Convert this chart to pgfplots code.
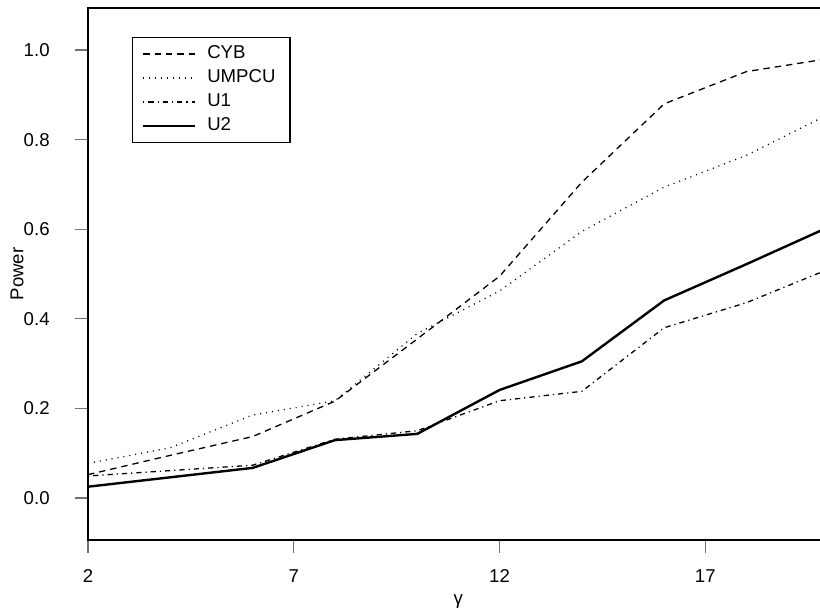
\documentclass[border=0pt]{standalone}
\usepackage{fontspec}
\setmainfont{Liberation Sans}
\usepackage{pgfplots}
\pgfplotsset{compat=1.18}

\pgfplotstableread{
x    cyb    umpcu  uone   utwo
2    0.052  0.077  0.049  0.025
4    0.095  0.112  0.061  0.046
6    0.137  0.185  0.073  0.067
8    0.216  0.217  0.131  0.129
10   0.355  0.367  0.150  0.143
12   0.495  0.462  0.217  0.241
14   0.705  0.595  0.238  0.305
16   0.880  0.694  0.380  0.441
18   0.952  0.765  0.436  0.522
20   0.981  0.857  0.511  0.605
}\powertab

\newcommand{\rfont}{\fontsize{9.3}{11}\selectfont}
\newcommand{\legtxt}[1]{\hspace*{5.5pt}#1}

\begin{document}
\begin{tikzpicture}
\begin{axis}[
  name=ax,
  scale only axis,
  width=370.4pt, height=266pt,
  xmin=2, xmax=20,
  ymin=-0.094, ymax=1.094,
  xtick={2,7,12,17},
  ytick={0,0.2,0.4,0.6,0.8,1.0},
  xtick pos=left, ytick pos=left,
  tick align=outside,
  major tick length=6.5pt,
  tick style={draw=black!55, line width=0.7pt},
  axis line style={line width=1.1pt},
  /pgf/number format/assume math mode=true,
  tick label style={font=\rfont},
  yticklabel style={/pgf/number format/fixed, /pgf/number format/fixed zerofill, /pgf/number format/precision=1},
  yticklabel style={inner sep=0pt, xshift=-12.5pt},
  xticklabel style={inner sep=0pt, yshift=-8pt},
  xlabel={γ},
  ylabel={Power},
  every axis x label/.style={at={(rel axis cs:0.5,-0.1165)}, anchor=center, font=\rfont},
  every axis y label/.style={at={(rel axis cs:-0.0958,0.5)}, rotate=90, anchor=center, font=\rfont},
  legend image code/.code={\draw[#1] (0pt,0pt) -- (26pt,0pt);},
  legend cell align=left,
  legend style={
    at={(0.059,0.946)}, anchor=north west,
    draw=black, line width=0.8pt,
    inner xsep=4.7pt, inner ysep=3.75pt,
    row sep=3pt,
    font=\rfont,
    nodes={inner sep=0pt, text height=6.7pt, text depth=2.3pt, text width=42pt, line width=0.8pt},
  },
]
\addplot[black, line width=0.65pt, dash pattern=on 3.2pt off 2.5pt] table[x=x, y=cyb] {\powertab};
\addlegendentry{\legtxt{CYB}}
\addplot[black, line width=0.65pt, dash pattern=on 0.5pt off 2.5pt] table[x=x, y=umpcu] {\powertab};
\addlegendentry{\legtxt{UMPCU}}
\addplot[black, line width=0.65pt, dash pattern=on 0.6pt off 2pt on 2.6pt off 2pt] table[x=x, y=uone] {\powertab};
\addlegendentry{\legtxt{U1}}
\addplot[black, line width=1.2pt] table[x=x, y=utwo] {\powertab};
\addlegendentry{\legtxt{U2}}
\end{axis}
\pgfresetboundingbox
\path[use as bounding box] ([shift={(-44pt,-35pt)}]ax.south west) rectangle ([shift={(366pt,270pt)}]ax.south west);
\end{tikzpicture}
\end{document}
